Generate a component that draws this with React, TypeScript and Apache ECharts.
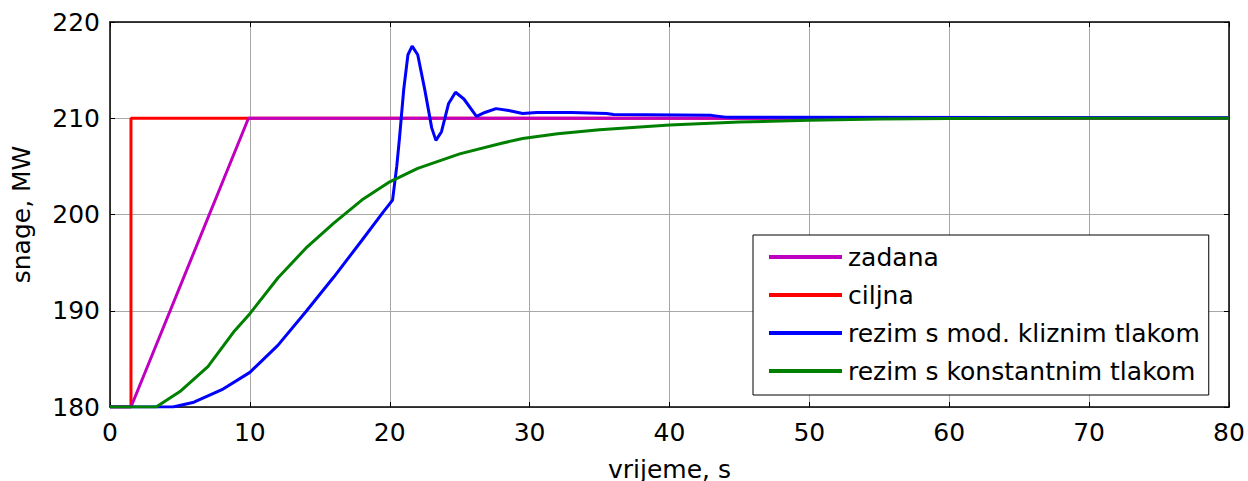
import React, { useEffect, useRef } from "react";
import * as echarts from "echarts";

const xTicks = [0, 10, 20, 30, 40, 50, 60, 70, 80];
const yTicks = [180, 190, 200, 210, 220];

const seriesNames = [
  "zadana",
  "ciljna",
  "rezim s mod. kliznim tlakom",
  "rezim s konstantnim tlakom",
];

// ciljna (target) — step
const ciljna: [number, number][] = [
  [0, 180], [1.5, 180], [1.5, 210], [80, 210],
];

// zadana (setpoint) — ramp
const zadana: [number, number][] = [
  [0, 180], [1.5, 180], [9.9, 210], [80, 210],
];

// rezim s mod. kliznim tlakom
const blue: [number, number][] = [
  [0, 180], [4.5, 180], [6, 180.5], [8, 181.8], [10, 183.6], [12, 186.4],
  [14, 189.9], [16, 193.5], [18, 197.3], [19.5, 200.2], [20.2, 201.5],
  [20.5, 205], [20.7, 208], [21, 213], [21.3, 216.6], [21.6, 217.5],
  [22, 216.6], [22.5, 213], [23, 209], [23.3, 207.7], [23.7, 208.6],
  [24.2, 211.5], [24.7, 212.7], [25.3, 212], [26.2, 210.2], [26.8, 210.6],
  [27.6, 211.0], [28.5, 210.8], [29.5, 210.5], [30.5, 210.6], [33, 210.6],
  [35.5, 210.5], [36, 210.4], [43, 210.3], [44, 210.1], [80, 210.05],
];

// rezim s konstantnim tlakom
const green: [number, number][] = [
  [0, 180], [3.3, 180], [5, 181.6], [7, 184.2], [8.9, 187.9], [10, 189.7],
  [12, 193.4], [14, 196.5], [16, 199.1], [18, 201.5], [20, 203.4],
  [22, 204.8], [25, 206.3], [28, 207.4], [29.5, 207.9], [32, 208.4],
  [35, 208.8], [40, 209.3], [45, 209.6], [50, 209.8], [55, 209.92],
  [60, 209.97], [65, 210], [80, 210],
];

const colors = {
  zadana: "#c000c0",
  ciljna: "#ff0000",
  blue: "#0000ff",
  green: "#008000",
};

export default function App() {
  const ref = useRef<HTMLDivElement>(null);
  useEffect(() => {
    if (!ref.current) return;
    const chart = echarts.init(ref.current, undefined, { renderer: "svg" });
    const font = "'DejaVu Sans', Arial, sans-serif";
    const fs = 25;
    const lineSeries = (name: string, data: [number, number][], color: string) => ({
      name,
      type: "line",
      data,
      showSymbol: false,
      symbol: "none",
      color,
      lineStyle: { color, width: 3 },
      xAxisIndex: 0,
      yAxisIndex: 0,
    });
    chart.setOption({
      animation: false,
      backgroundColor: "#ffffff",
      textStyle: { fontFamily: font },
      grid: {
        left: 110,
        right: 19,
        top: 22,
        bottom: 74,
        containLabel: false,
        outerBoundsMode: "none",
      },
      legend: {
        data: seriesNames,
        orient: "vertical",
        left: 753,
        top: 235,
        icon: "rect",
        itemWidth: 73,
        itemHeight: 4,
        itemGap: 10,
        padding: [8, 9, 10, 16],
        borderColor: "#000",
        borderWidth: 1,
        borderRadius: 0,
        backgroundColor: "#ffffff",
        selectedMode: false,
        textStyle: { fontSize: fs, color: "#000", fontFamily: font, lineHeight: 28, padding: [0, 0, 0, 1] },
      },
      xAxis: [
        {
          type: "value",
          min: xTicks[0],
          max: xTicks[xTicks.length - 1],
          interval: 10,
          name: "vrijeme, s",
          nameLocation: "middle",
          nameGap: 50,
          nameTextStyle: { fontSize: fs, color: "#000", fontFamily: font },
          axisLine: { show: true, onZero: false, lineStyle: { color: "#000", width: 1.5 } },
          axisTick: { show: true, inside: true, length: 5, lineStyle: { color: "#000" } },
          axisLabel: { fontSize: fs, color: "#000", margin: 13, fontFamily: font },
          splitLine: { show: true, lineStyle: { color: "#a8a8a8", width: 1 } },
        },
        {
          type: "value",
          position: "top",
          min: xTicks[0],
          max: xTicks[xTicks.length - 1],
          interval: 10,
          axisLine: { show: true, onZero: false, lineStyle: { color: "#000", width: 1.5 } },
          axisTick: { show: true, inside: true, length: 5, lineStyle: { color: "#000" } },
          axisLabel: { show: false },
          splitLine: { show: false },
        },
      ],
      yAxis: [
        {
          type: "value",
          min: yTicks[0],
          max: yTicks[yTicks.length - 1],
          interval: 10,
          name: "snage, MW",
          nameLocation: "middle",
          nameGap: 76,
          nameTextStyle: { fontSize: fs, color: "#000", fontFamily: font },
          axisLine: { show: true, onZero: false, lineStyle: { color: "#000", width: 1.5 } },
          axisTick: { show: true, inside: true, length: 5, lineStyle: { color: "#000" } },
          axisLabel: { fontSize: fs, color: "#000", margin: 10, fontFamily: font },
          splitLine: { show: true, lineStyle: { color: "#a8a8a8", width: 1 } },
        },
        {
          type: "value",
          position: "right",
          min: yTicks[0],
          max: yTicks[yTicks.length - 1],
          interval: 10,
          axisLine: { show: true, onZero: false, lineStyle: { color: "#000", width: 1.5 } },
          axisTick: { show: true, inside: true, length: 5, lineStyle: { color: "#000" } },
          axisLabel: { show: false },
          splitLine: { show: false },
        },
      ],
      series: [
        lineSeries(seriesNames[1], ciljna, colors.ciljna),
        lineSeries(seriesNames[0], zadana, colors.zadana),
        lineSeries(seriesNames[2], blue, colors.blue),
        lineSeries(seriesNames[3], green, colors.green),
      ],
    });
    return () => chart.dispose();
  }, []);
  return (
    <div
      ref={ref}
      style={{ position: "fixed", left: 0, top: 0, width: 1248, height: 481 }}
    />
  );
}
